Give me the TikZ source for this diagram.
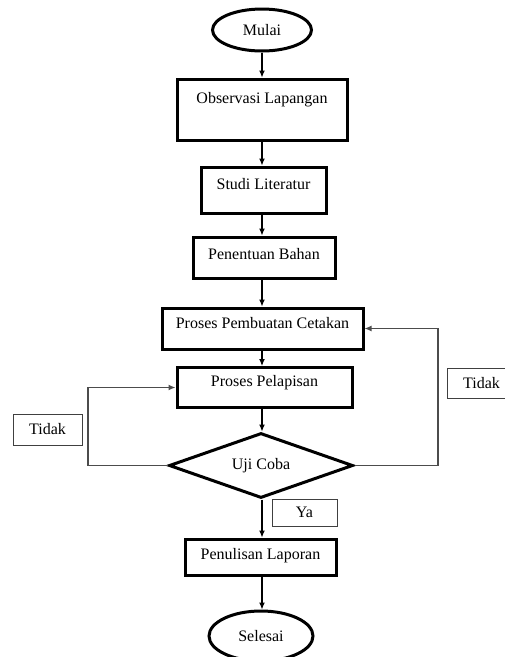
\documentclass[tikz,border=0pt]{standalone}
\usepackage{fontspec}
\setmainfont{Liberation Serif}
\usetikzlibrary{shapes.geometric,arrows.meta}
\begin{document}
\begin{tikzpicture}[x=1pt,y=-1pt,
  font=\fontsize{16}{19}\selectfont,
  box/.style={draw,line width=3pt,rectangle,inner sep=0pt},
  ell/.style={draw,line width=3pt,ellipse,inner sep=0pt},
  dia/.style={draw,line width=3pt,diamond,inner sep=0pt},
  lab/.style={draw=black!75,line width=1pt,rectangle,inner sep=0pt},
  txt/.style={inner sep=0pt},
  arr/.style={line width=1.2pt,-{Latex[length=7pt,width=6pt]}},
  back/.style={draw=black!70,line width=1.3pt,-{Latex[length=7pt,width=6pt]}}]
\useasboundingbox (0,0) rectangle (505,657);
\node[ell,minimum width=99pt,minimum height=42pt] (mulai) at (262,30) {Mulai};
\node[box,minimum width=170pt,minimum height=61pt] (obs) at (262,109.5) {};
\node[txt] (obst) at (262,100) {Observasi Lapangan};
\node[box,minimum width=125pt,minimum height=46pt] (studi) at (263.5,190) {};
\node[txt] (studit) at (263.5,184) {Studi Literatur};
\node[box,minimum width=142pt,minimum height=41pt] (bahan) at (264,257.5) {};
\node[txt] (bahant) at (264,254) {Penentuan Bahan};
\node[box,minimum width=201pt,minimum height=41pt] (cet) at (262.5,328.5) {};
\node[txt] (cett) at (262.5,323) {Proses Pembuatan Cetakan};
\node[box,minimum width=175pt,minimum height=40pt] (pel) at (264.5,387.5) {};
\node[txt] (pelt) at (264.5,383) {Proses Pelapisan};
\node[dia,minimum width=184pt,minimum height=65pt] (uji) at (261,465.5) {};
\node[txt] (ujit) at (261,466) {Uji Coba};
\node[lab,minimum width=65pt,minimum height=27pt] (ya) at (304.5,512.5) {Ya};
\node[box,minimum width=151pt,minimum height=36pt] (lap) at (260.5,557) {};
\node[txt] (lapt) at (260.5,556) {Penulisan Laporan};
\node[ell,minimum width=104pt,minimum height=50pt] (selesai) at (261,636) {Selesai};
\node[lab,minimum width=69pt,minimum height=31pt] (tl) at (47.5,429.5) {Tidak};
\node[lab,minimum width=69pt,minimum height=30pt] (tr) at (481.5,383) {Tidak};
\coordinate (ax) at (262,0);
\coordinate (lc) at (88,0);
\coordinate (rc) at (438,0);
\draw[arr] (mulai.south -| ax) -- (obs.north -| ax);
\draw[arr] (obs.south -| ax) -- (studi.north -| ax);
\draw[arr] (studi.south -| ax) -- (bahan.north -| ax);
\draw[arr] (bahan.south -| ax) -- (cet.north -| ax);
\draw[arr] (cet.south -| ax) -- (pel.north -| ax);
\draw[arr] (pel.south -| ax) -- (uji.north -| ax);
\draw[arr] (uji.south -| ax) -- (lap.north -| ax);
\draw[arr] (lap.south -| ax) -- (selesai.north -| ax);
\draw[back] (uji.west) -- (uji.west -| lc) |- (pel.west);
\draw[back] (uji.east) -- (uji.east -| rc) |- (cet.east);
\end{tikzpicture}
\end{document}
